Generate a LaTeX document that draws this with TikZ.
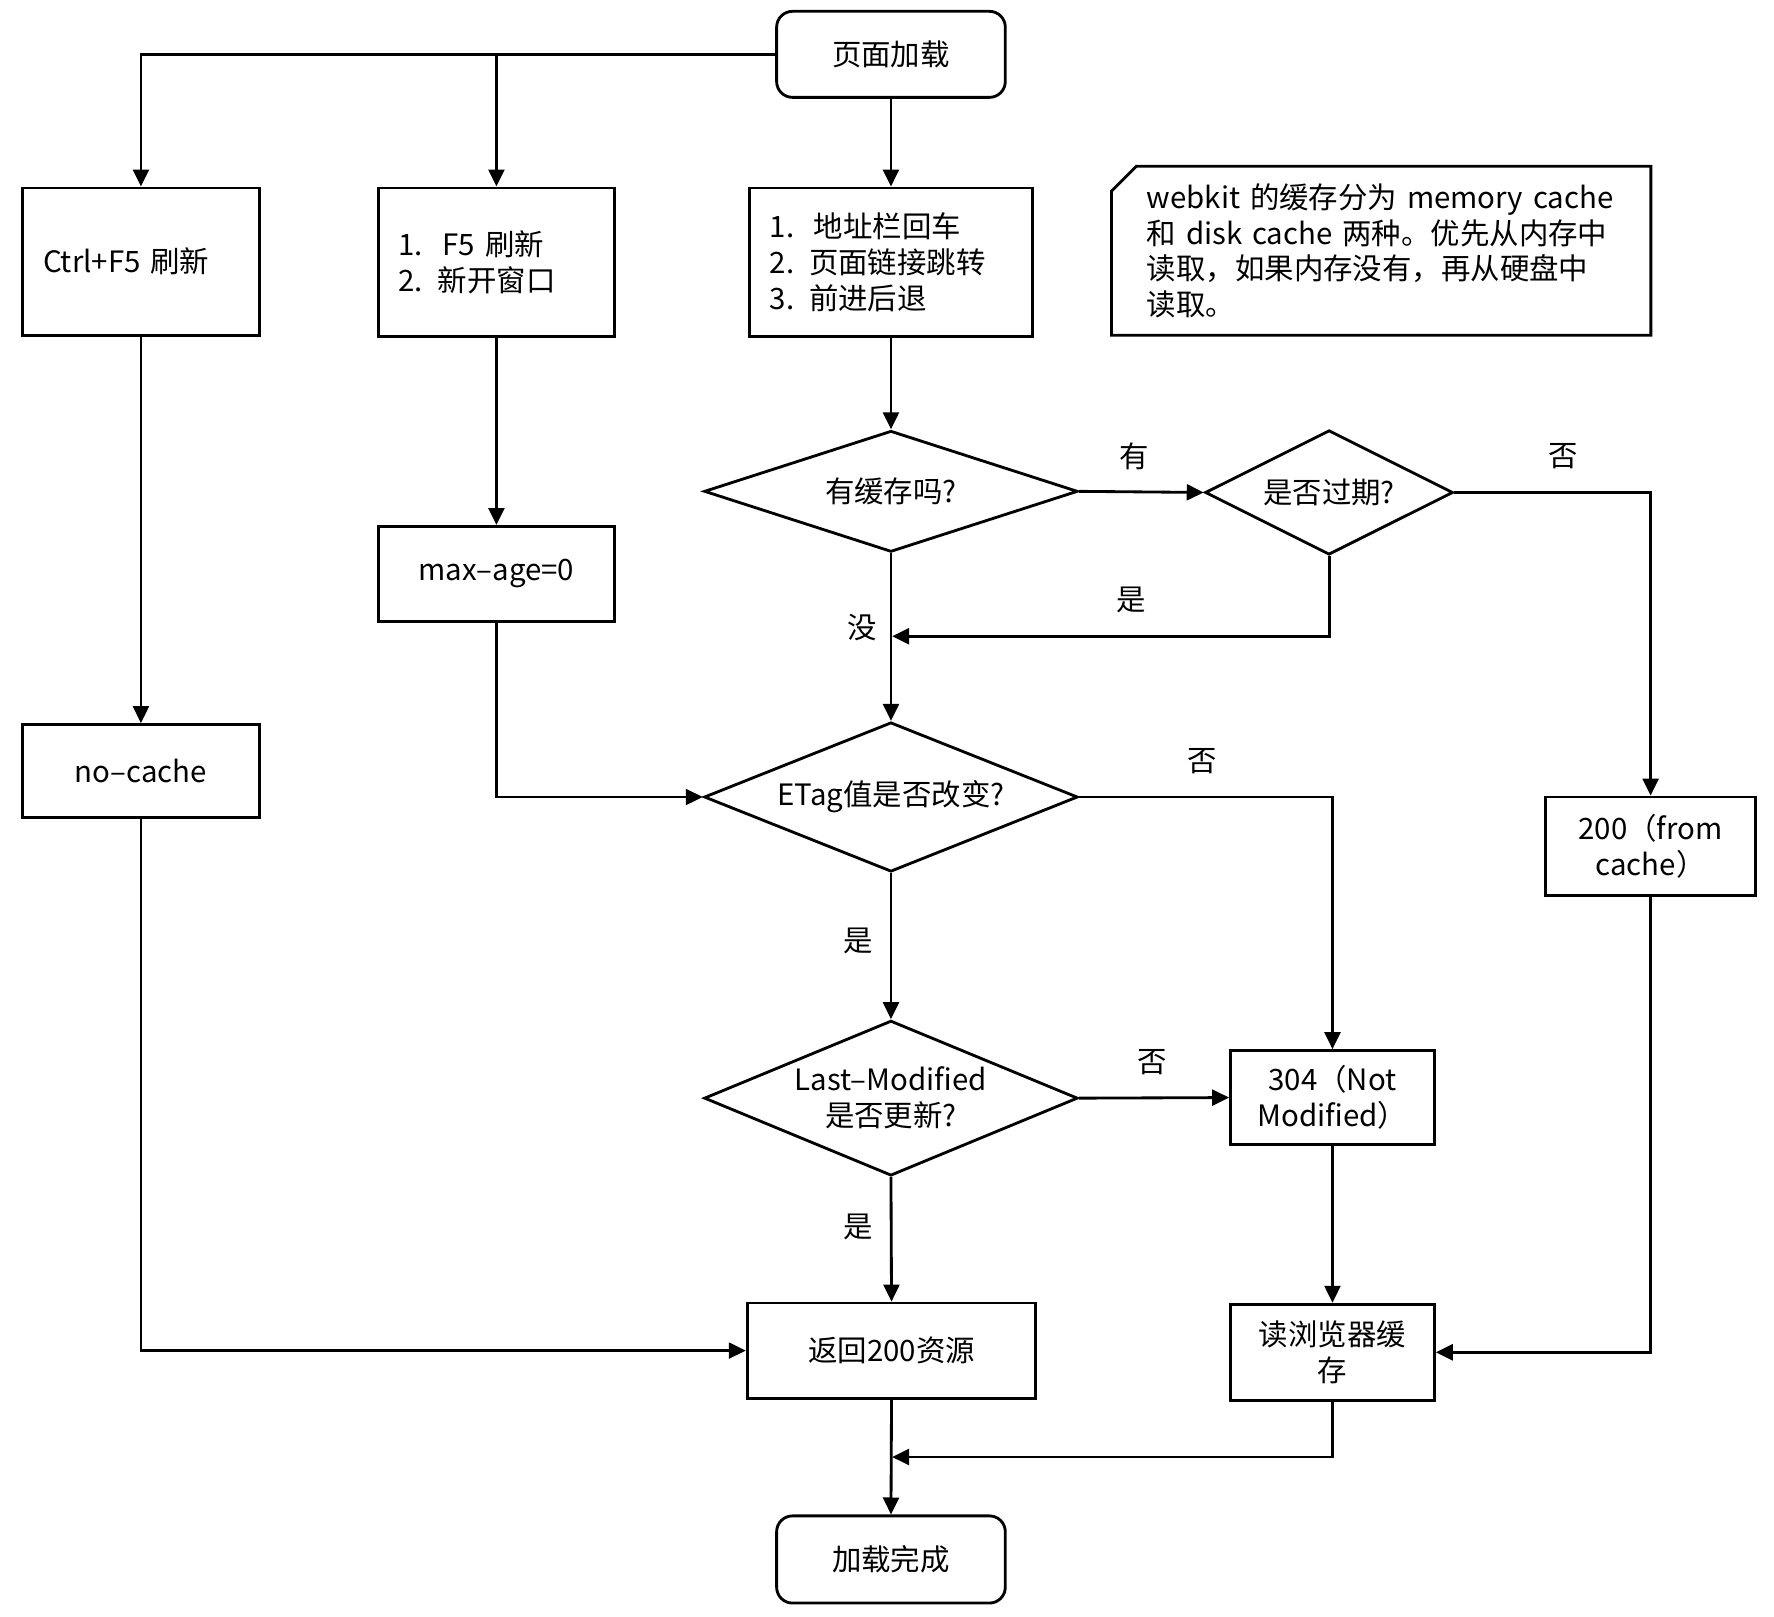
\documentclass[tikz,border=0pt]{standalone}
\usepackage{fontspec}
\setmainfont{Noto Sans CJK SC}
\usetikzlibrary{shapes.geometric,arrows.meta}
\tikzset{
  base/.style={draw, line width=2.5pt, font=\fontsize{26}{32}\selectfont},
  box/.style={base, rectangle, inner sep=0pt, align=center},
  lbox/.style={base, rectangle, inner xsep=18pt, inner ysep=0pt, align=left},
  term/.style={box, rounded corners=14pt},
  dia/.style={base, diamond, inner sep=0pt, align=center},
  arr/.style={line width=2.5pt, -{Triangle[length=15pt,width=14pt]}},
  lbl/.style={font=\fontsize{26}{32}\selectfont, inner sep=0pt},
}
\begin{document}
\begin{tikzpicture}[x=1pt,y=-1pt]
\useasboundingbox (0,0) rectangle (1567,1427.5);
% nodes
\node[term, minimum width=202pt, minimum height=76pt] (start) at (787,48) {页面加载};
\node[lbox, text width=173pt, minimum width=209pt, minimum height=130pt] (ctrl) at (124.5,231) {Ctrl+F5 刷新};
\node[lbox, text width=173pt, minimum width=209pt, minimum height=131pt] (f5) at (438.5,231.5) {1.\ \ F5 刷新\\2. 新开窗口};
\node[lbox, text width=214pt, minimum width=250pt, minimum height=131pt] (addr) at (787,231.5) {1.\ \ 地址栏回车\\2. 页面链接跳转\\3. 前进后退};
\node[rectangle, inner xsep=31pt, inner ysep=0pt, text width=414pt, minimum width=476pt, minimum height=149pt, align=left, font=\fontsize{26}{31.3}\selectfont] (note) at (1220,221.5) {webkit 的缓存分为 memory cache\\和 disk cache 两种。优先从内存中\\读取，如果内存没有，再从硬盘中\\读取。};
\draw[line width=2.5pt] ([yshift=-22pt]note.north west) -- ([xshift=22pt]note.north west) -- (note.north east) -- (note.south east) -- (note.south west) -- cycle;
\node[box, minimum width=209pt, minimum height=82pt] (nocache) at (124.5,681) {no–cache};
\node[box, minimum width=209pt, minimum height=84pt] (maxage) at (438.5,507) {max–age=0};
\node[dia, aspect=3.08, minimum width=330pt, minimum height=107pt] (d1) at (787,434) {有缓存吗?};
\node[dia, aspect=2, minimum width=219pt, minimum height=110pt] (d2) at (1174,435) {是否过期?};
\node[dia, aspect=2.5, minimum width=330pt, minimum height=132pt] (d3) at (787,704) {ETag值是否改变?};
\node[dia, aspect=2.4, minimum width=330pt, minimum height=137pt] (d4) at (787,970) {Last–Modified\\是否更新?};
\node[box, minimum width=186pt, minimum height=87pt] (c200) at (1458,747.5) {200（from\\cache）};
\node[box, minimum width=180pt, minimum height=83pt] (n304) at (1177,969.5) {304（Not\\Modified）};
\node[box, minimum width=255pt, minimum height=84pt] (ret) at (787.5,1193) {返回200资源};
\node[box, minimum width=180pt, minimum height=85pt] (rb) at (1177,1194.5) {读浏览器缓\\存};
\node[term, minimum width=202pt, minimum height=77pt] (end) at (787,1377.5) {加载完成};
% helper coordinates
\coordinate (m1) at (788,562);
\coordinate (m2) at (788,1287);
% connectors
\draw[arr] (start.west) -| (ctrl.north);
\draw[arr] (start.west) -| (f5.north);
\draw[arr] (start.south) -- (addr.north);
\draw[arr] (ctrl.south) -- (nocache.north);
\draw[arr] (f5.south) -- (maxage.north);
\draw[arr] (addr.south) -- (d1.north);
\draw[arr] (d1.east) -- (d2.west);
\draw[arr] (d2.east) -| (c200.north);
\draw[arr] (d2.south) |- (m1);
\draw[arr] (d1.south) -- (d3.north);
\draw[arr] (maxage.south) |- (d3.west);
\draw[arr] (d3.east) -| (n304.north);
\draw[arr] (d3.south) -- (d4.north);
\draw[arr] (d4.east) -- (n304.west);
\draw[arr] (d4.south) -- (ret.north);
\draw[arr] (nocache.south) |- (ret.west);
\draw[arr] (n304.south) -- (rb.north);
\draw[arr] (c200.south) |- (rb.east);
\draw[arr] (rb.south) |- (m2);
\draw[arr] (ret.south) -- (end.north);
% labels
\node[lbl] (l1) at (1002,403) {有};
\node[lbl] (l2) at (1381,403) {否};
\node[lbl] (l3) at (999,530) {是};
\node[lbl] (l4) at (762,554) {没};
\node[lbl] (l5) at (1062,672) {否};
\node[lbl] (l6) at (758,831) {是};
\node[lbl] (l7) at (1018,938) {否};
\node[lbl] (l8) at (758,1084) {是};
\end{tikzpicture}
\end{document}
